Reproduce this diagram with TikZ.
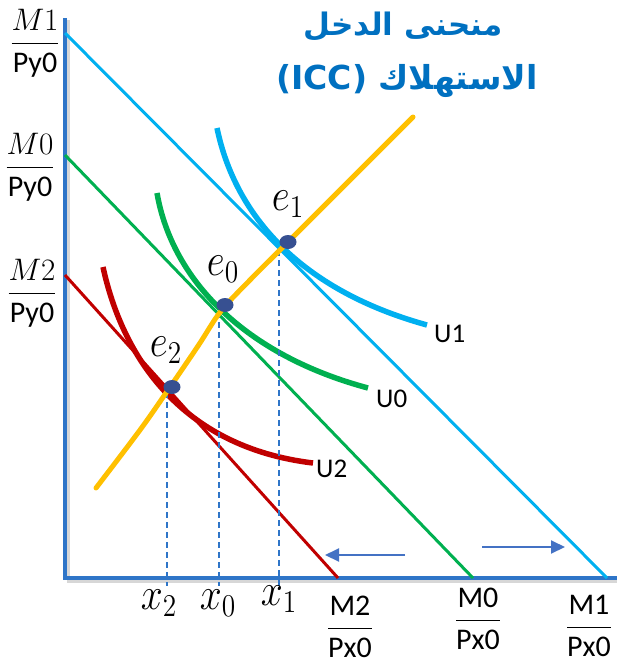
\documentclass[tikz,border=0pt]{standalone}
\usepackage{fontspec}
\usetikzlibrary{arrows.meta,shapes.geometric}
\TeXXeTstate=1
\newfontfamily\arabicfont[Script=Arabic]{DejaVu Sans}
\newfontfamily\titlefont{DejaVu Sans}
\newfontfamily\carlito{Carlito}
\definecolor{axisblue}{RGB}{46,117,200}
\definecolor{lightblue}{RGB}{0,176,240}
\definecolor{mygreen}{RGB}{0,176,80}
\definecolor{myred}{RGB}{192,0,0}
\definecolor{iccorange}{RGB}{255,192,0}
\definecolor{titleblue}{RGB}{0,112,192}
\definecolor{arrowblue}{RGB}{68,114,196}
\definecolor{dotblue}{RGB}{55,80,145}
\begin{document}
\begin{tikzpicture}[x=1pt,y=-1pt,
  axisline/.style={axisblue,line width=4pt},
  axisshadow/.style={black!35,line width=3pt,opacity=0.45},
  budget/.style={line width=3pt},
  indiff/.style={line width=5.5pt},
  iccline/.style={iccorange,line width=5pt,line cap=round},
  guide/.style={axisblue,line width=1.6pt,dash pattern=on 6pt off 4pt},
  dotnode/.style={ellipse,fill=dotblue,minimum width=17pt,minimum height=14pt,inner sep=0pt},
  shiftarrow/.style={arrowblue,line width=2pt,-{Triangle[length=14pt,width=13pt]}},
  elabel/.style={inner sep=0pt,font=\fontsize{20}{24}\selectfont,xscale=1.9,yscale=2.2},
  ulabel/.style={inner sep=0pt,font=\carlito\fontsize{27}{32}\selectfont},
  fraclabel/.style={inner sep=0pt,font=\fontsize{20}{24}\selectfont,scale=1.5},
  titletext/.style={inner sep=0pt,text=titleblue}
]
\useasboundingbox (0,0) rectangle (617,665);

% axes
\coordinate (O) at (65,578);
\coordinate (ytop) at (65,18);
\coordinate (xend) at (617,578);
\draw[axisshadow] (68.5,20) -- (68.5,576);
\draw[axisshadow] (67,581.5) -- (617,581.5);
\draw[axisline] (ytop) -- (65,580);
\draw[axisline] (63,578) -- (xend);

% budget lines
\coordinate (b1s) at (65,33);   \coordinate (b1e) at (607,578);
\coordinate (b0s) at (65,155);  \coordinate (b0e) at (473,578);
\coordinate (b2s) at (65,275);  \coordinate (b2e) at (338,578);
\draw[budget,lightblue] (b1s) -- (b1e);
\draw[budget,mygreen] (b0s) -- (b0e);
\draw[budget,myred] (b2s) -- (b2e);

% indifference curves
\coordinate (u1s) at (217,128); \coordinate (u1e) at (427,325);
\coordinate (u0s) at (157,193); \coordinate (u0e) at (368,388);
\coordinate (u2s) at (103,267); \coordinate (u2e) at (313,463);
\draw[indiff,lightblue] (u1s) .. controls (235,215) and (300,290) .. (u1e);
\draw[indiff,mygreen] (u0s) .. controls (172,280) and (245,355) .. (u0e);
\draw[indiff,myred] (u2s) .. controls (122,355) and (180,447) .. (u2e);

% equilibrium points
\coordinate (e1) at (283,247);
\coordinate (e0) at (221,311);
\coordinate (e2) at (168,390);
\coordinate (iccs) at (96,488);
\coordinate (icce) at (413,117);

% dashed guides
\coordinate (g1) at (279,586);
\coordinate (g0) at (219,586);
\coordinate (g2) at (167,586);
\draw[guide] (279,250) -- (g1);
\draw[guide] (219,312) -- (g0);
\draw[guide] (167,392) -- (g2);

% ICC
\draw[iccline] plot[smooth,tension=0.55] coordinates {(iccs) (140,430) (e2) (198,346) (e0) (250,280) (e1) (icce)};

% dots
\node[dotnode] (d1) at (288,242) {};
\node[dotnode] (d0) at (225,305) {};
\node[dotnode] (d2) at (172,387) {};

% point labels
\node[elabel] (le1) at (288,204) {$e_1$};
\node[elabel] (le0) at (223,269) {$e_0$};
\node[elabel] (le2) at (166,350) {$e_2$};

% curve labels
\node[ulabel,anchor=west] (lu1) at (434,334) {U1};
\node[ulabel,anchor=west] (lu0) at (376,399) {U0};
\node[ulabel,anchor=west] (lu2) at (316,469) {U2};

% x labels
\node[elabel] (lx2) at (159,603) {$x_2$};
\node[elabel] (lx0) at (218,603) {$x_0$};
\node[elabel] (lx1) at (279,599) {$x_1$};

% y-axis fractions
\node[fraclabel] (fy1) at (35,43) {$\displaystyle\frac{M1}{\hbox{\carlito Py0}}$};
\node[fraclabel] (fy0) at (30,167) {$\displaystyle\frac{M0}{\hbox{\carlito Py0}}$};
\node[fraclabel] (fy2) at (32,293) {$\displaystyle\frac{M2}{\hbox{\carlito Py0}}$};

% x-axis fractions
\node[fraclabel] (fx2) at (350,627) {$\displaystyle\frac{\hbox{\carlito M2}}{\hbox{\carlito Px0}}$};
\node[fraclabel] (fx0) at (478,619) {$\displaystyle\frac{\hbox{\carlito M0}}{\hbox{\carlito Px0}}$};
\node[fraclabel] (fx1) at (589,626) {$\displaystyle\frac{\hbox{\carlito M1}}{\hbox{\carlito Px0}}$};

% shift arrows
\coordinate (al1) at (405,555); \coordinate (al2) at (325,555);
\coordinate (ar1) at (482,547); \coordinate (ar2) at (565,547);
\draw[shiftarrow] (al1) -- (al2);
\draw[shiftarrow] (ar1) -- (ar2);

% title
\node[titletext] (t1) at (403,27) {\arabicfont\bfseries\fontsize{31}{36}\selectfont\beginR منحنى الدخل\endR};
\node[titletext] (t2) at (407,81) {\titlefont\bfseries\fontsize{33}{38}\selectfont (ICC) {\arabicfont\bfseries\beginR الاستهلاك\endR}};
\end{tikzpicture}
\end{document}
